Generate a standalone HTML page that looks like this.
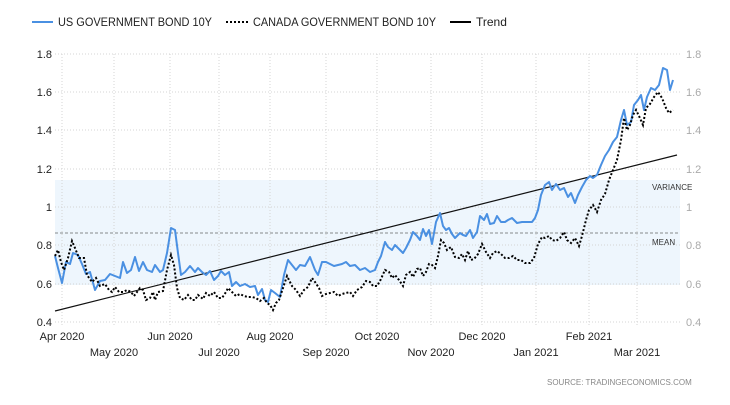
<!DOCTYPE html>
<html><head><style>body{margin:0;background:#fff}</style></head><body>
<svg width="730" height="400" xmlns="http://www.w3.org/2000/svg" font-family="Liberation Sans, sans-serif">
<rect width="730" height="400" fill="#fff"/>
<rect x="55" y="180" width="625" height="105" fill="#eef6fd"/>
<g stroke="#d4d4d4" stroke-dasharray="1,2" stroke-width="1">
<line x1="55" y1="54" x2="680" y2="54"/><line x1="55" y1="92" x2="680" y2="92"/><line x1="55" y1="130" x2="680" y2="130"/><line x1="55" y1="169" x2="680" y2="169"/><line x1="55" y1="207" x2="680" y2="207"/><line x1="55" y1="245" x2="680" y2="245"/><line x1="55" y1="284" x2="680" y2="284"/><line x1="55" y1="322" x2="680" y2="322"/>
<line x1="62" y1="54" x2="62" y2="326"/><line x1="114" y1="54" x2="114" y2="326"/><line x1="170" y1="54" x2="170" y2="326"/><line x1="219" y1="54" x2="219" y2="326"/><line x1="270" y1="54" x2="270" y2="326"/><line x1="326" y1="54" x2="326" y2="326"/><line x1="377" y1="54" x2="377" y2="326"/><line x1="431" y1="54" x2="431" y2="326"/><line x1="482" y1="54" x2="482" y2="326"/><line x1="536" y1="54" x2="536" y2="326"/><line x1="589" y1="54" x2="589" y2="326"/><line x1="637" y1="54" x2="637" y2="326"/>
</g>
<line x1="55" y1="233" x2="680" y2="233" stroke="#666" stroke-dasharray="3,2" stroke-width="0.8"/>
<text x="652" y="190" font-size="8" fill="#333">VARIANCE</text>
<text x="652" y="245" font-size="8" fill="#333">MEAN</text>
<line x1="55" y1="311" x2="677" y2="155" stroke="#111" stroke-width="1.2"/>
<polyline fill="none" stroke="#4a90e2" stroke-width="2" stroke-linejoin="round" points="55,256 58,268 62,283 66,262 70,264 73,253 78,255 82,264 86,274 90,272 95,290 100,281 105,280 110,274 115,276 120,278 123,262 127,273 131,270 135,257 139,271 143,262 147,270 152,272 155,265 160,272 163,270 167,253 171,228 175,230 178,253 181,275 185,272 190,266 195,272 198,268 202,272 206,275 210,271 214,280 218,276 221,271 225,275 229,272 232,286 236,282 240,286 245,284 250,287 255,286 258,295 262,289 265,300 268,302 271,290 275,293 280,297 284,275 288,260 292,265 296,270 300,265 305,266 310,257 315,270 318,275 322,262 326,262 330,264 334,266 338,265 342,264 346,262 350,266 355,265 360,270 365,268 370,272 375,270 378,262 381,256 385,242 388,247 392,250 395,245 399,249 403,253 406,248 410,240 413,232 417,236 420,240 423,229 426,236 429,230 432,244 436,222 440,213 443,226 446,230 449,228 452,234 455,238 460,233 463,235 466,236 470,230 473,238 477,232 480,216 484,220 487,214 490,224 494,223 497,216 501,222 505,222 508,220 512,218 517,223 522,222 527,222 532,222 535,218 538,210 541,195 545,185 549,182 552,190 556,184 560,190 564,188 568,197 571,193 575,203 578,195 582,187 586,180 590,176 593,178 597,175 601,165 605,156 609,150 613,142 617,137 621,120 624,110 627,125 631,122 634,105 638,100 641,95 644,110 647,97 651,88 655,90 659,85 663,68 667,70 670,90 673,80"/>
<polyline fill="none" stroke="#000" stroke-width="2" stroke-dasharray="2,2" points="55,256 58,250 61,262 64,270 68,258 72,241 75,248 79,258 84,258 87,275 92,282 96,278 100,286 105,284 109,290 112,292 115,287 119,292 123,292 127,290 131,292 134,296 137,292 140,288 143,290 146,300 150,298 153,292 155,300 158,292 163,291 167,270 171,255 174,265 177,288 180,298 184,300 188,295 192,300 195,300 198,295 203,299 206,293 210,296 214,292 218,298 222,298 226,292 228,288 232,292 236,296 240,294 244,296 248,297 252,297 256,298 260,301 264,298 267,303 270,305 273,310 276,303 279,300 283,288 287,276 292,286 296,290 300,296 304,290 308,287 312,278 315,282 319,288 322,296 326,294 330,293 334,292 338,296 342,294 346,293 350,292 353,296 357,290 362,287 366,281 370,282 373,286 377,286 380,281 385,270 389,272 392,278 395,275 399,280 403,286 406,275 410,272 413,277 417,269 420,268 423,276 426,272 429,264 432,265 435,268 438,256 441,240 444,243 447,250 451,247 455,257 459,258 462,254 465,260 468,251 471,260 474,259 478,254 482,244 486,252 490,258 493,253 497,251 501,254 505,258 509,258 513,256 517,260 521,260 525,263 530,263 534,258 538,244 542,237 545,238 549,236 552,240 556,241 560,238 564,232 567,240 571,243 575,238 579,246 582,236 586,220 589,210 593,205 597,212 601,200 605,194 609,180 613,170 617,160 621,140 624,118 627,130 630,125 633,115 636,110 639,116 643,125 646,108 650,104 654,97 658,92 662,98 666,108 669,113 673,110"/>
<g font-size="11" fill="#222" text-anchor="end">
<text x="52" y="58">1.8</text><text x="52" y="96">1.6</text><text x="52" y="134">1.4</text><text x="52" y="173">1.2</text><text x="52" y="211">1</text><text x="52" y="249">0.8</text><text x="52" y="288">0.6</text><text x="52" y="326">0.4</text>
</g>
<g font-size="11" fill="#aaa">
<text x="686" y="58">1.8</text><text x="686" y="96">1.6</text><text x="686" y="134">1.4</text><text x="686" y="173">1.2</text><text x="686" y="211">1</text><text x="686" y="249">0.8</text><text x="686" y="288">0.6</text><text x="686" y="326">0.4</text>
</g>
<g font-size="11" fill="#222" text-anchor="middle">
<text x="62" y="340">Apr 2020</text><text x="170" y="340">Jun 2020</text><text x="270" y="340">Aug 2020</text><text x="377" y="340">Oct 2020</text><text x="482" y="340">Dec 2020</text><text x="589" y="340">Feb 2021</text>
<text x="114" y="356">May 2020</text><text x="219" y="356">Jul 2020</text><text x="326" y="356">Sep 2020</text><text x="431" y="356">Nov 2020</text><text x="536" y="356">Jan 2021</text><text x="637" y="356">Mar 2021</text>
</g>
<text x="547" y="385" font-size="8" fill="#888">SOURCE:  TRADINGECONOMICS.COM</text>
<line x1="32" y1="22" x2="53" y2="22" stroke="#4a90e2" stroke-width="2"/>
<text x="58" y="26" font-size="12" fill="#222" textLength="154" lengthAdjust="spacingAndGlyphs">US GOVERNMENT BOND 10Y</text>
<line x1="226" y1="22" x2="248" y2="22" stroke="#000" stroke-width="2" stroke-dasharray="2,2"/>
<text x="253" y="26" font-size="12" fill="#222" textLength="183" lengthAdjust="spacingAndGlyphs">CANADA GOVERNMENT BOND 10Y</text>
<line x1="450" y1="22" x2="471" y2="22" stroke="#000" stroke-width="2"/>
<text x="476" y="26" font-size="12" fill="#222">Trend</text>
</svg>
</body></html>
